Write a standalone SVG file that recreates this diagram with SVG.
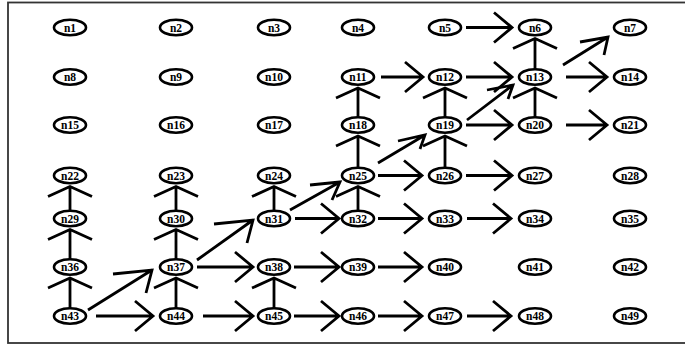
<svg xmlns="http://www.w3.org/2000/svg" width="685" height="345" viewBox="0 0 685 345">
<style>
.frame{fill:none;stroke:#333;stroke-width:1.8}
.node ellipse{fill:#fff;stroke:#000;stroke-width:2.6}
.node text{font-family:"Liberation Serif","DejaVu Serif",serif;font-weight:bold;font-size:11.5px;text-anchor:middle;fill:#000}
.edge{fill:none;stroke:#000;stroke-width:2.8;stroke-linecap:butt;stroke-linejoin:miter}
</style>
<rect width="685" height="345" fill="#fff"/>
<rect class="frame" x="8" y="2.5" width="700" height="340.5"/>
<g id="edges">
<path class="edge" d="M466 27.5L512 27.5M494 12.5L512 27.5L494 42.5"/>
<path class="edge" d="M381 77L423 77M405 62L423 77L405 92"/>
<path class="edge" d="M466 77L512 77M494 62L512 77L494 92"/>
<path class="edge" d="M566 77L607 77M589 62L607 77L589 92"/>
<path class="edge" d="M466 125L512 125M494 110L512 125L494 140"/>
<path class="edge" d="M566 125L607 125M589 110L607 125L589 140"/>
<path class="edge" d="M378 175.5L422 175.5M404 160.5L422 175.5L404 190.5"/>
<path class="edge" d="M466 175.5L512 175.5M494 160.5L512 175.5L494 190.5"/>
<path class="edge" d="M295 218.5L339 218.5M321 203.5L339 218.5L321 233.5"/>
<path class="edge" d="M378 218.5L422 218.5M404 203.5L422 218.5L404 233.5"/>
<path class="edge" d="M467 218.5L511 218.5M493 203.5L511 218.5L493 233.5"/>
<path class="edge" d="M197 267L253 267M235 252L253 267L235 282"/>
<path class="edge" d="M294 267L339 267M321 252L339 267L321 282"/>
<path class="edge" d="M378 267L422 267M404 252L422 267L404 282"/>
<path class="edge" d="M96 316L153 316M135 301L153 316L135 331"/>
<path class="edge" d="M203 316L253 316M235 301L253 316L235 331"/>
<path class="edge" d="M294 316L339 316M321 301L339 316L321 331"/>
<path class="edge" d="M378 316L422 316M404 301L422 316L404 331"/>
<path class="edge" d="M467 316L511 316M493 301L511 316L493 331"/>
<path class="edge" d="M70 308L70 278M48 288L70 278L92 288"/>
<path class="edge" d="M70 259L70 229.5M48 239.5L70 229.5L92 239.5"/>
<path class="edge" d="M70 210.5L70 186.5M48 196.5L70 186.5L92 196.5"/>
<path class="edge" d="M176 308L176 278M154 288L176 278L198 288"/>
<path class="edge" d="M176 259L176 229.5M154 239.5L176 229.5L198 239.5"/>
<path class="edge" d="M176 210.5L176 186.5M154 196.5L176 186.5L198 196.5"/>
<path class="edge" d="M274 308L274 278M252 288L274 278L296 288"/>
<path class="edge" d="M274 210.5L274 186.5M252 196.5L274 186.5L296 196.5"/>
<path class="edge" d="M358 210.5L358 186.5M336 196.5L358 186.5L380 196.5"/>
<path class="edge" d="M358 167.5L358 136M336 146L358 136L380 146"/>
<path class="edge" d="M358 117L358 88M336 98L358 88L380 98"/>
<path class="edge" d="M445 167.5L445 136M423 146L445 136L467 146"/>
<path class="edge" d="M445 117L445 88M423 98L445 88L467 98"/>
<path class="edge" d="M535 117L535 88M513 98L535 88L557 98"/>
<path class="edge" d="M535 69L535 38.5M513 48.5L535 38.5L557 48.5"/>
<path class="edge" d="M88 310L152 270M113 274L152 270L146 293"/>
<path class="edge" d="M197 260L253 220M214 224L253 220L247 243"/>
<path class="edge" d="M290 210L340 182M310 185L340 182L332 200"/>
<path class="edge" d="M378 163L425 135M398 141L425 135L420 149"/>
<path class="edge" d="M467 120L513 85M487 90L513 85L508 99"/>
<path class="edge" d="M563 65L608 37M580 42L608 37L604 55"/>
</g>
<g id="n1" class="node"><ellipse cx="70" cy="27.5" rx="16" ry="7.8"/><text x="70" y="31.5">n1</text></g>
<g id="n2" class="node"><ellipse cx="176" cy="27.5" rx="16" ry="7.8"/><text x="176" y="31.5">n2</text></g>
<g id="n3" class="node"><ellipse cx="274" cy="27.5" rx="16" ry="7.8"/><text x="274" y="31.5">n3</text></g>
<g id="n4" class="node"><ellipse cx="358" cy="27.5" rx="16" ry="7.8"/><text x="358" y="31.5">n4</text></g>
<g id="n5" class="node"><ellipse cx="445" cy="27.5" rx="16" ry="7.8"/><text x="445" y="31.5">n5</text></g>
<g id="n6" class="node"><ellipse cx="535" cy="27.5" rx="16" ry="7.8"/><text x="535" y="31.5">n6</text></g>
<g id="n7" class="node"><ellipse cx="630" cy="27.5" rx="16" ry="7.8"/><text x="630" y="31.5">n7</text></g>
<g id="n8" class="node"><ellipse cx="70" cy="77" rx="16" ry="7.8"/><text x="70" y="81">n8</text></g>
<g id="n9" class="node"><ellipse cx="176" cy="77" rx="16" ry="7.8"/><text x="176" y="81">n9</text></g>
<g id="n10" class="node"><ellipse cx="274" cy="77" rx="16" ry="7.8"/><text x="274" y="81">n10</text></g>
<g id="n11" class="node"><ellipse cx="358" cy="77" rx="16" ry="7.8"/><text x="358" y="81">n11</text></g>
<g id="n12" class="node"><ellipse cx="445" cy="77" rx="16" ry="7.8"/><text x="445" y="81">n12</text></g>
<g id="n13" class="node"><ellipse cx="535" cy="77" rx="16" ry="7.8"/><text x="535" y="81">n13</text></g>
<g id="n14" class="node"><ellipse cx="630" cy="77" rx="16" ry="7.8"/><text x="630" y="81">n14</text></g>
<g id="n15" class="node"><ellipse cx="70" cy="125" rx="16" ry="7.8"/><text x="70" y="129">n15</text></g>
<g id="n16" class="node"><ellipse cx="176" cy="125" rx="16" ry="7.8"/><text x="176" y="129">n16</text></g>
<g id="n17" class="node"><ellipse cx="274" cy="125" rx="16" ry="7.8"/><text x="274" y="129">n17</text></g>
<g id="n18" class="node"><ellipse cx="358" cy="125" rx="16" ry="7.8"/><text x="358" y="129">n18</text></g>
<g id="n19" class="node"><ellipse cx="445" cy="125" rx="16" ry="7.8"/><text x="445" y="129">n19</text></g>
<g id="n20" class="node"><ellipse cx="535" cy="125" rx="16" ry="7.8"/><text x="535" y="129">n20</text></g>
<g id="n21" class="node"><ellipse cx="630" cy="125" rx="16" ry="7.8"/><text x="630" y="129">n21</text></g>
<g id="n22" class="node"><ellipse cx="70" cy="175.5" rx="16" ry="7.8"/><text x="70" y="179.5">n22</text></g>
<g id="n23" class="node"><ellipse cx="176" cy="175.5" rx="16" ry="7.8"/><text x="176" y="179.5">n23</text></g>
<g id="n24" class="node"><ellipse cx="274" cy="175.5" rx="16" ry="7.8"/><text x="274" y="179.5">n24</text></g>
<g id="n25" class="node"><ellipse cx="358" cy="175.5" rx="16" ry="7.8"/><text x="358" y="179.5">n25</text></g>
<g id="n26" class="node"><ellipse cx="445" cy="175.5" rx="16" ry="7.8"/><text x="445" y="179.5">n26</text></g>
<g id="n27" class="node"><ellipse cx="535" cy="175.5" rx="16" ry="7.8"/><text x="535" y="179.5">n27</text></g>
<g id="n28" class="node"><ellipse cx="630" cy="175.5" rx="16" ry="7.8"/><text x="630" y="179.5">n28</text></g>
<g id="n29" class="node"><ellipse cx="70" cy="218.5" rx="16" ry="7.8"/><text x="70" y="222.5">n29</text></g>
<g id="n30" class="node"><ellipse cx="176" cy="218.5" rx="16" ry="7.8"/><text x="176" y="222.5">n30</text></g>
<g id="n31" class="node"><ellipse cx="274" cy="218.5" rx="16" ry="7.8"/><text x="274" y="222.5">n31</text></g>
<g id="n32" class="node"><ellipse cx="358" cy="218.5" rx="16" ry="7.8"/><text x="358" y="222.5">n32</text></g>
<g id="n33" class="node"><ellipse cx="445" cy="218.5" rx="16" ry="7.8"/><text x="445" y="222.5">n33</text></g>
<g id="n34" class="node"><ellipse cx="535" cy="218.5" rx="16" ry="7.8"/><text x="535" y="222.5">n34</text></g>
<g id="n35" class="node"><ellipse cx="630" cy="218.5" rx="16" ry="7.8"/><text x="630" y="222.5">n35</text></g>
<g id="n36" class="node"><ellipse cx="70" cy="267" rx="16" ry="7.8"/><text x="70" y="271">n36</text></g>
<g id="n37" class="node"><ellipse cx="176" cy="267" rx="16" ry="7.8"/><text x="176" y="271">n37</text></g>
<g id="n38" class="node"><ellipse cx="274" cy="267" rx="16" ry="7.8"/><text x="274" y="271">n38</text></g>
<g id="n39" class="node"><ellipse cx="358" cy="267" rx="16" ry="7.8"/><text x="358" y="271">n39</text></g>
<g id="n40" class="node"><ellipse cx="445" cy="267" rx="16" ry="7.8"/><text x="445" y="271">n40</text></g>
<g id="n41" class="node"><ellipse cx="535" cy="267" rx="16" ry="7.8"/><text x="535" y="271">n41</text></g>
<g id="n42" class="node"><ellipse cx="630" cy="267" rx="16" ry="7.8"/><text x="630" y="271">n42</text></g>
<g id="n43" class="node"><ellipse cx="70" cy="316" rx="16" ry="7.8"/><text x="70" y="320">n43</text></g>
<g id="n44" class="node"><ellipse cx="176" cy="316" rx="16" ry="7.8"/><text x="176" y="320">n44</text></g>
<g id="n45" class="node"><ellipse cx="274" cy="316" rx="16" ry="7.8"/><text x="274" y="320">n45</text></g>
<g id="n46" class="node"><ellipse cx="358" cy="316" rx="16" ry="7.8"/><text x="358" y="320">n46</text></g>
<g id="n47" class="node"><ellipse cx="445" cy="316" rx="16" ry="7.8"/><text x="445" y="320">n47</text></g>
<g id="n48" class="node"><ellipse cx="535" cy="316" rx="16" ry="7.8"/><text x="535" y="320">n48</text></g>
<g id="n49" class="node"><ellipse cx="630" cy="316" rx="16" ry="7.8"/><text x="630" y="320">n49</text></g>
</svg>
